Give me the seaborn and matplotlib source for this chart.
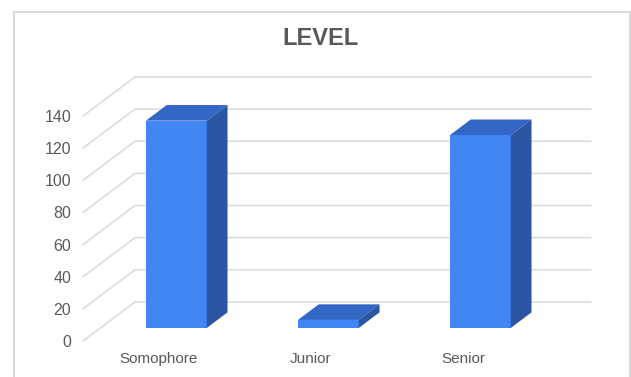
import matplotlib
matplotlib.use('Agg')
import matplotlib.pyplot as plt
import seaborn as sns
import pandas as pd
from matplotlib.patches import Polygon, Rectangle
from matplotlib.transforms import Affine2D

# ---- data ----
categories = ['Somophore', 'Junior', 'Senior']
counts = [129, 5, 120]
y_ticks = [0, 20, 40, 60, 80, 100, 120, 140]

# ---- style ----
sns.set_theme(style='white')
plt.rcParams['font.family'] = ['Liberation Sans', 'DejaVu Sans']

FRONT = '#4285f4'
TOP = '#3367c6'
SIDE = '#2b56a2'
GRID = '#d9d9d9'
TXT = '#595959'

# depth vector of the pseudo-3D box (in data units), bar placement in depth
DX, DY = 0.342, 24.3
D0 = 1 / 3      # bar front face depth fraction
DB = 0.40       # bar depth fraction

fig = plt.figure(figsize=(6.31, 3.77), dpi=100)
ax = fig.add_axes([83 / 631, 36 / 377, 456 / 631, 225 / 377])
ax.patch.set_alpha(0)

df = pd.DataFrame({'level': categories, 'count': counts})
sns.barplot(data=df, x='level', y='count', color=FRONT, saturation=1,
            width=0.4, linewidth=0, ax=ax, zorder=3)

ax.set_xlim(-0.5, 2.5)
ax.set_ylim(0, 140)
ax.set_yticks(y_ticks)
ax.set_xlabel('')
ax.set_ylabel('')
for s in ax.spines.values():
    s.set_visible(False)
ax.tick_params(axis='y', length=0, pad=8.5, labelsize=11.5, labelcolor=TXT)
ax.tick_params(axis='x', length=0, pad=8, labelsize=11, labelcolor=TXT)

# back wall + side wall gridlines
x0, x1 = ax.get_xlim()
for v in y_ticks:
    ax.plot([x0, x0 + DX, x1 + DX], [v, v + DY, v + DY], color=GRID, lw=1.1,
            clip_on=False, zorder=1)

# 3D bars: shift front faces into depth, add top and side faces
ox, oy = D0 * DX, D0 * DY
bx, by = DB * DX, DB * DY
for p in list(ax.patches):
    xa = p.get_x()
    w = p.get_width()
    h = p.get_height()
    p.set_transform(Affine2D().translate(ox, oy) + ax.transData)
    p.set_clip_on(False)
    top = Polygon([(xa + ox, h + oy), (xa + w + ox, h + oy),
                   (xa + w + ox + bx, h + oy + by), (xa + ox + bx, h + oy + by)],
                  closed=True, facecolor=TOP, edgecolor='none', zorder=3, clip_on=False)
    side = Polygon([(xa + w + ox, oy), (xa + w + ox + bx, oy + by),
                    (xa + w + ox + bx, h + oy + by), (xa + w + ox, h + oy)],
                   closed=True, facecolor=SIDE, edgecolor='none', zorder=3, clip_on=False)
    ax.add_patch(top)
    ax.add_patch(side)

# title
fig.text(321 / 631, 1 - 38.5 / 377, 'LEVEL', ha='center', va='center',
         fontsize=17, fontweight='bold', color=TXT)

# chart border
fig.patches.append(Rectangle((14 / 631, -0.02), (630 - 14) / 631, (377 - 12) / 377 + 0.02,
                             transform=fig.transFigure, fill=False,
                             edgecolor=GRID, lw=1.5, zorder=0))

fig.savefig('out.png', dpi=100)
